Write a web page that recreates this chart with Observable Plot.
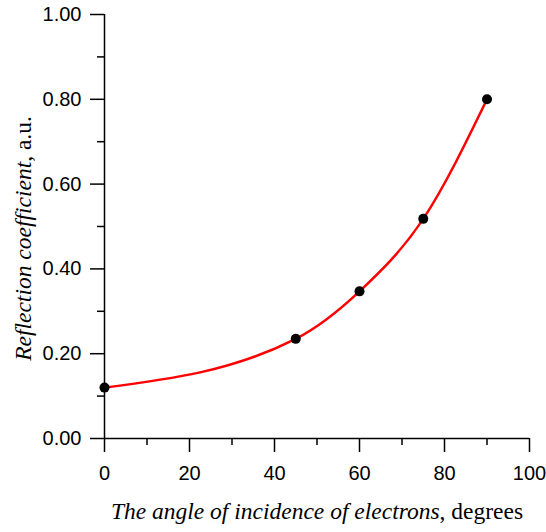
<!DOCTYPE html>
<html>
<head>
<meta charset="utf-8">
<script src="https://cdn.jsdelivr.net/npm/d3@7"></script>
<script src="https://cdn.jsdelivr.net/npm/@observablehq/plot@0.6"></script>
<style>
  html, body { margin: 0; padding: 0; background: white; }
</style>
</head>
<body>
<div id="chart"></div>
<script>
const angles = [0, 45, 60, 75, 90];
const coefficients = [0.12, 0.235, 0.347, 0.518, 0.80];
const xMajorTicks = [0, 20, 40, 60, 80, 100];
const xMinorTicks = [10, 30, 50, 70, 90];
const yMajorTicks = [0, 0.2, 0.4, 0.6, 0.8, 1.0];
const yMinorTicks = [0.1, 0.3, 0.5, 0.7, 0.9];
const xLabelParts = ["The angle of incidence of electrons", ", degrees"];
const yLabelParts = ["Reflection coefficient", ", a.u."];

const data = angles.map((a, i) => ({angle: a, coef: coefficients[i]}));
const serif = "'Liberation Serif', 'Times New Roman', serif";

const chart = Plot.plot({
  width: 546,
  height: 532,
  marginLeft: 104,
  marginRight: 17,
  marginTop: 14,
  marginBottom: 94,
  x: {domain: [0, 100], label: null},
  y: {domain: [0, 1], label: null},
  style: {fontFamily: "'Liberation Sans', Arial, sans-serif", background: "white", color: "black", overflow: "visible"},
  marks: [
    Plot.axisX(xMinorTicks, {tickSize: 7, tickFormat: () => "", strokeWidth: 1.5, label: null}),
    Plot.axisX(xMajorTicks, {tickSize: 14, tickPadding: 13, fontSize: 20, strokeWidth: 1.5, label: null}),
    Plot.axisY(yMinorTicks, {tickSize: 7, tickFormat: () => "", strokeWidth: 1.5, label: null}),
    Plot.axisY(yMajorTicks, {tickSize: 14, tickPadding: 9, fontSize: 20, tickFormat: d3.format(".2f"), strokeWidth: 1.5, label: null}),
    Plot.ruleX([0], {strokeWidth: 1.5}),
    Plot.ruleY([0], {strokeWidth: 1.5}),
    Plot.line(data, {x: "angle", y: "coef", curve: "monotone-x", stroke: "#ff0000", strokeWidth: 2.5}),
    Plot.dot(data, {x: "angle", y: "coef", r: 5, fill: "black"}),
    Plot.text([xLabelParts.join("")], {frameAnchor: "bottom", dy: 80, lineAnchor: "bottom", fontFamily: serif, fontSize: 23.5}),
    Plot.text([yLabelParts.join("")], {frameAnchor: "left", rotate: -90, dx: -74, dy: 12, lineAnchor: "bottom", textAnchor: "middle", fontFamily: serif, fontSize: 23.5})
  ]
});

function splitLabel(parts) {
  const full = parts.join("");
  const ns = "http://www.w3.org/2000/svg";
  chart.querySelectorAll("text").forEach(t => {
    if (t.textContent !== full) return;
    t.textContent = "";
    const a = document.createElementNS(ns, "tspan");
    a.setAttribute("font-style", "italic");
    a.textContent = parts[0];
    const b = document.createElementNS(ns, "tspan");
    b.setAttribute("font-style", "normal");
    b.textContent = parts[1];
    t.appendChild(a);
    t.appendChild(b);
  });
}
splitLabel(xLabelParts);
splitLabel(yLabelParts);

document.getElementById("chart").appendChild(chart);
</script>
</body>
</html>
